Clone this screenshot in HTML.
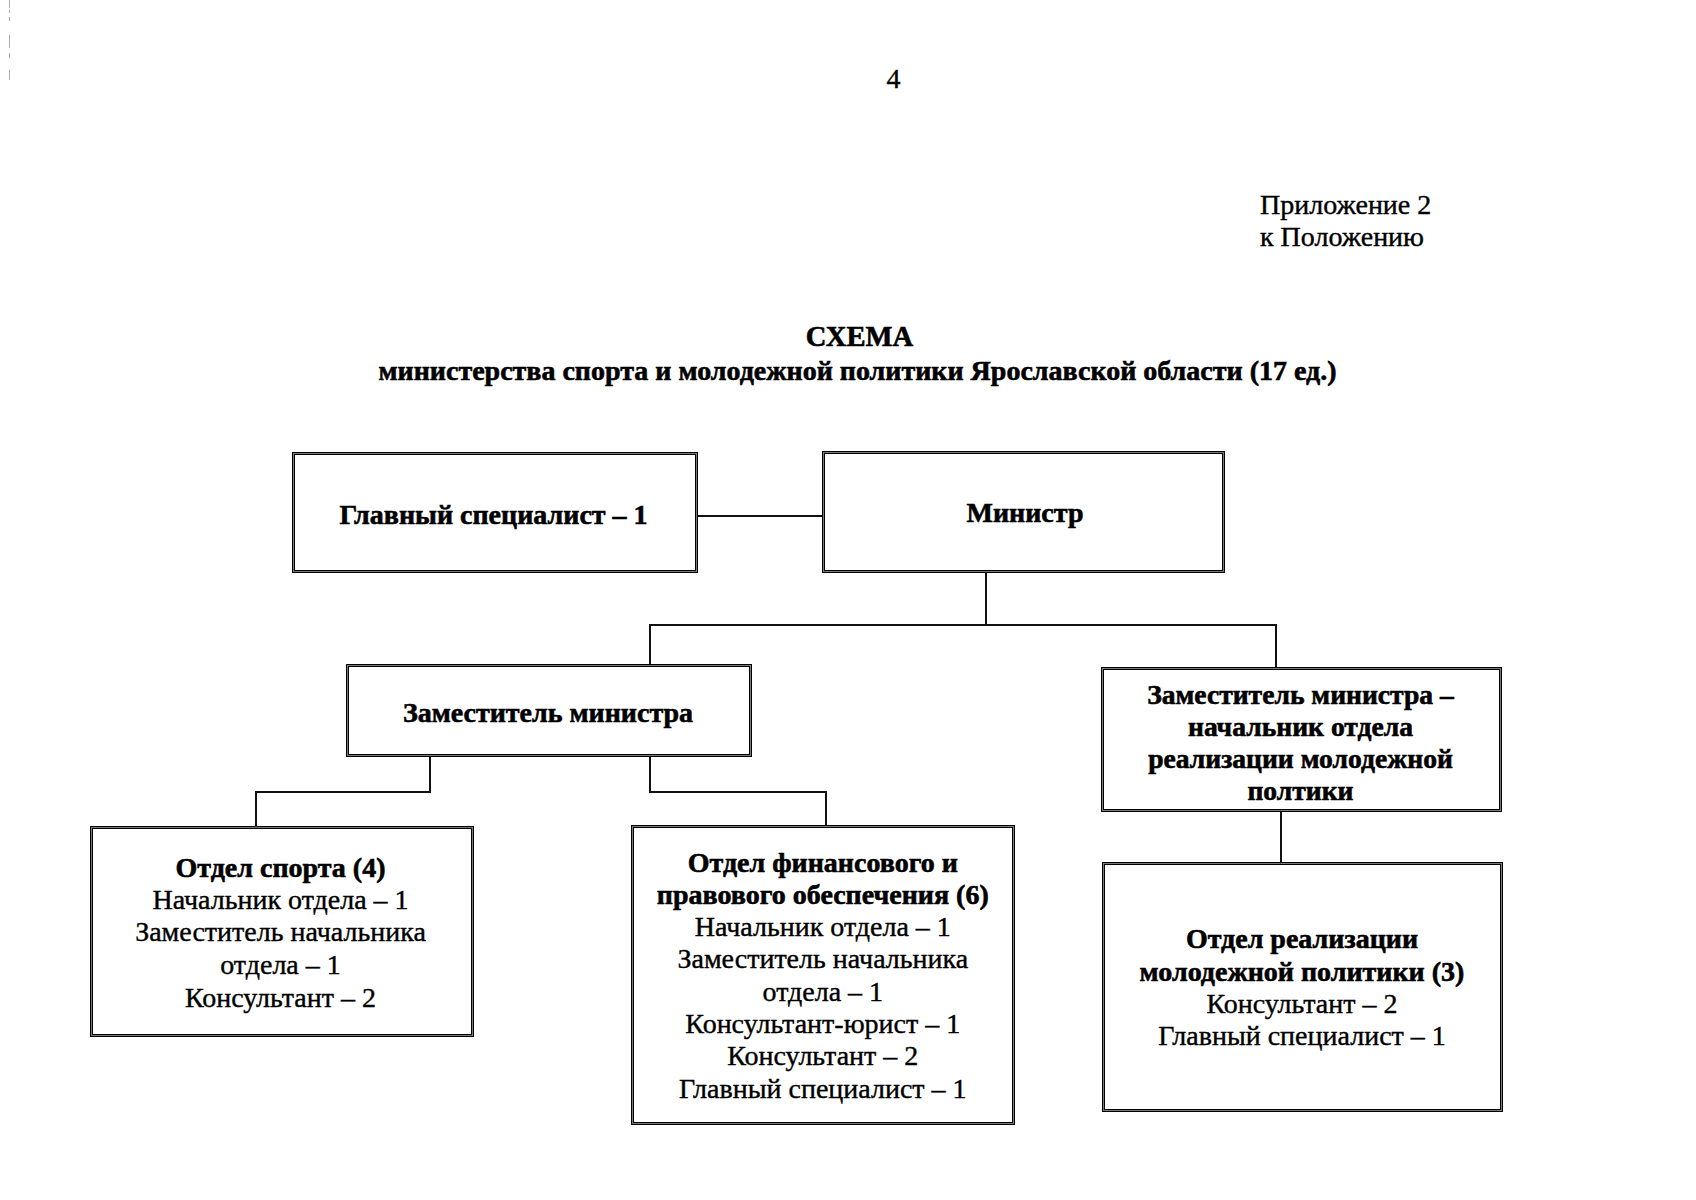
<!DOCTYPE html>
<html>
<head>
<meta charset="utf-8">
<style>
html,body{margin:0;padding:0;background:#fff;}
body{width:1696px;height:1200px;position:relative;overflow:hidden;font-family:"Liberation Serif",serif;color:#000;}
.t{position:absolute;white-space:nowrap;font-size:28px;line-height:32px;-webkit-text-stroke:0.4px #000;}
.c{width:1000px;text-align:center;}
.b{font-weight:bold;-webkit-text-stroke-width:0.6px;}
.box{position:absolute;box-sizing:border-box;border:1px solid #000;box-shadow:inset 0 0 0 1px #7a7a7a, inset 0 0 0 2px #000;}
.k{position:absolute;background:#111;}
.m{position:absolute;width:1px;background:#aaa;}
</style>
</head>
<body>

<div class="m" style="left:9px;top:0px;height:8px"></div>
<div class="m" style="left:9px;top:10px;height:3px"></div>
<div class="m" style="left:9px;top:17px;height:4px"></div>
<div class="m" style="left:9px;top:35px;height:13px"></div>
<div class="m" style="left:9px;top:53px;height:5px"></div>
<div class="m" style="left:9px;top:70px;height:10px"></div>
<div class="t" style="left:1260px;top:189px">Приложение 2</div>
<div class="t" style="left:1260px;top:221px">к Положению</div>
<div class="t c" style="left:393.50px;top:63px;">4</div>
<div class="t c b" style="left:359.50px;top:321px;font-size:28.6px">СХЕМА</div>
<div class="t c b" style="left:357.50px;top:355px;">министерства спорта и молодежной политики Ярославской области (17 ед.)</div>
<div class="t c b" style="left:-6.50px;top:499px;">Главный специалист – 1</div>
<div class="t c b" style="left:525.00px;top:497px;">Министр</div>
<div class="t c b" style="left:48.00px;top:697px;">Заместитель министра</div>
<div class="t c b" style="left:800.50px;top:679px;font-size:27.6px">Заместитель министра –</div>
<div class="t c b" style="left:800.50px;top:711px;font-size:27.6px">начальник отдела</div>
<div class="t c b" style="left:800.50px;top:743px;font-size:27.6px">реализации молодежной</div>
<div class="t c b" style="left:800.50px;top:775px;font-size:27.6px">полтики</div>
<div class="t c b" style="left:-219.50px;top:852px;">Отдел спорта (4)</div>
<div class="t c" style="left:-219.50px;top:884px;">Начальник отдела – 1</div>
<div class="t c" style="left:-219.50px;top:916px;">Заместитель начальника</div>
<div class="t c" style="left:-219.50px;top:949px;">отдела – 1</div>
<div class="t c" style="left:-219.50px;top:982px;">Консультант – 2</div>
<div class="t c b" style="left:322.80px;top:847px;">Отдел финансового и</div>
<div class="t c b" style="left:322.80px;top:879px;">правового обеспечения (6)</div>
<div class="t c" style="left:322.80px;top:911px;">Начальник отдела – 1</div>
<div class="t c" style="left:322.80px;top:943px;">Заместитель начальника</div>
<div class="t c" style="left:322.80px;top:976px;">отдела – 1</div>
<div class="t c" style="left:322.80px;top:1008px;">Консультант-юрист – 1</div>
<div class="t c" style="left:322.80px;top:1040px;">Консультант – 2</div>
<div class="t c" style="left:322.80px;top:1073px;">Главный специалист – 1</div>
<div class="t c b" style="left:802.00px;top:923px;">Отдел реализации</div>
<div class="t c b" style="left:802.00px;top:956px;">молодежной политики (3)</div>
<div class="t c" style="left:802.00px;top:988px;">Консультант – 2</div>
<div class="t c" style="left:802.00px;top:1020px;">Главный специалист – 1</div>
<div class="box" style="left:292px;top:452px;width:406px;height:121px"></div>
<div class="box" style="left:822px;top:451px;width:403px;height:122px"></div>
<div class="box" style="left:346px;top:664px;width:406px;height:93px"></div>
<div class="box" style="left:1101px;top:667px;width:401px;height:145px"></div>
<div class="box" style="left:90px;top:826px;width:384px;height:211px"></div>
<div class="box" style="left:631px;top:825px;width:384px;height:300px"></div>
<div class="box" style="left:1102px;top:862px;width:401px;height:250px"></div>
<div class="k" style="left:698px;top:515px;width:124px;height:2px"></div>
<div class="k" style="left:985px;top:572px;width:2px;height:54px"></div>
<div class="k" style="left:649px;top:624px;width:628px;height:2px"></div>
<div class="k" style="left:649px;top:624px;width:2px;height:40px"></div>
<div class="k" style="left:1275px;top:624px;width:2px;height:43px"></div>
<div class="k" style="left:429px;top:757px;width:2px;height:36px"></div>
<div class="k" style="left:255px;top:791px;width:176px;height:2px"></div>
<div class="k" style="left:255px;top:791px;width:2px;height:36px"></div>
<div class="k" style="left:649px;top:757px;width:2px;height:36px"></div>
<div class="k" style="left:649px;top:791px;width:178px;height:2px"></div>
<div class="k" style="left:825px;top:791px;width:2px;height:34px"></div>
<div class="k" style="left:800px;top:792px;width:27px;height:1px"></div>
<div class="k" style="left:1280px;top:812px;width:2px;height:50px"></div>
</body>
</html>
